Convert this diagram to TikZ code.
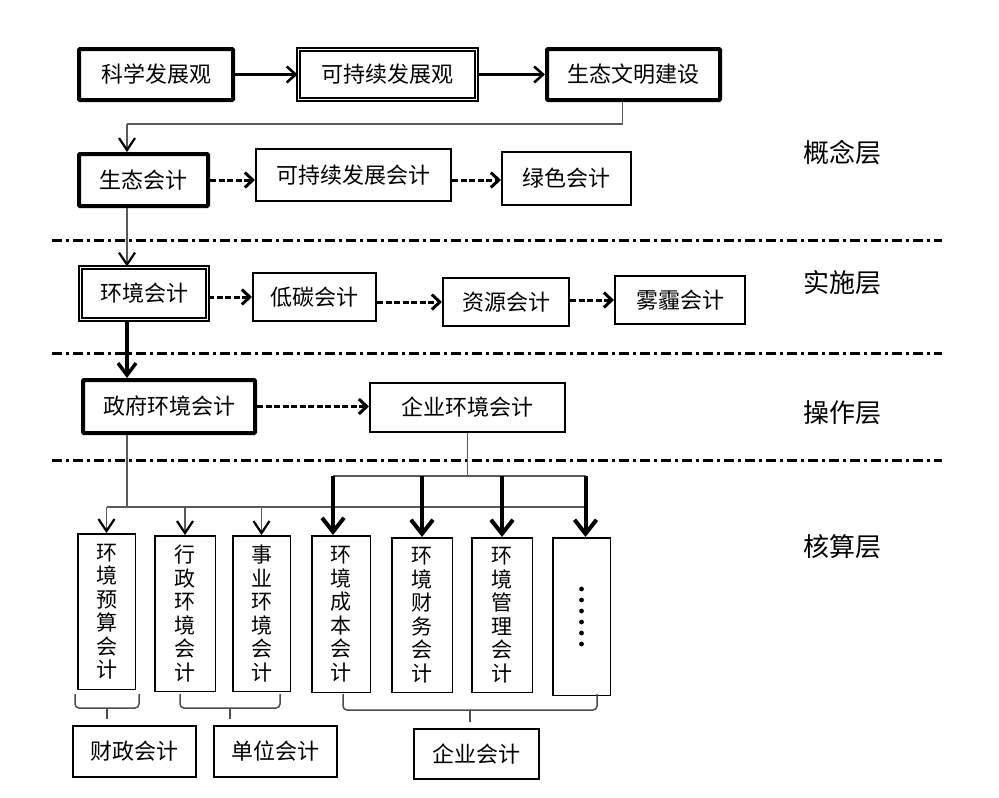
\documentclass[tikz,border=0pt]{standalone}
\usepackage{fontspec}
\newfontfamily\cjk{Noto Sans CJK SC}
\usetikzlibrary{arrows.meta}

\begin{document}
\begin{tikzpicture}[x=1pt,y=-1pt,
  font=\cjk\fontsize{22}{23}\selectfont,
  box/.style={draw,line width=2pt,inner sep=0pt},
  thickbox/.style={box,line width=4pt,rounded corners=1pt},
  dblbox/.style={box,double,double distance=1.5pt,line width=1.8pt},
  vbox/.style={draw,line width=1.5pt,inner sep=0pt,align=center,font=\cjk\fontsize{21}{23.5}\selectfont},
  labbox/.style={box,line width=2.4pt},
  layer/.style={font=\cjk\fontsize{26}{27}\selectfont},
  sepline/.style={line width=3pt,dash pattern=on 10pt off 4pt on 3pt off 4pt},
  link/.style={black!65,line width=1.2pt},
  arr/.style={line width=2.5pt,-{Straight Barb[length=9pt,width=16pt]}},
  dasharr/.style={line width=3pt,dash pattern=on 6pt off 2.5pt,-{Straight Barb[length=8pt,width=15pt,line width=3pt]}},
  thinarr/.style={link,-{Straight Barb[length=12pt,width=16pt,line width=2.2pt,color=black]}},
  thickarr/.style={line width=3.5pt,-{Straight Barb[length=12pt,width=18pt]}},
  bigarr/.style={line width=4pt,-{Straight Barb[length=14pt,width=22pt]}},
  bracket/.style={black!70,line width=1.5pt,rounded corners=4pt}]
\useasboundingbox (0,0) rectangle (999,798);

% Concept layer
\node[thickbox,minimum width=154pt,minimum height=51pt] (kxfzg) at (156,74.5) {科学发展观};
\node[dblbox,minimum width=178pt,minimum height=50pt] (kcxfzg) at (387.5,74.5) {可持续发展观};
\node[thickbox,minimum width=173pt,minimum height=51pt] (stwm) at (633.5,74.5) {生态文明建设};

\node[thickbox,minimum width=129pt,minimum height=52pt] (stkj) at (143.5,180) {生态会计};
\node[box,minimum width=195pt,minimum height=52pt] (kcxkj) at (353.5,175) {可持续发展会计};
\node[box,minimum width=129pt,minimum height=53pt] (lskj) at (566.5,178.5) {绿色会计};

% Implementation layer
\node[dblbox,minimum width=127pt,minimum height=52pt] (hjkj) at (144,293.5) {环境会计};
\node[box,minimum width=123pt,minimum height=48pt] (dtkj) at (314.5,297) {低碳会计};
\node[box,minimum width=126pt,minimum height=48pt] (zykj) at (506,302) {资源会计};
\node[box,minimum width=130pt,minimum height=48pt] (wmkj) at (680,300) {雾霾会计};

% Operation layer
\node[thickbox,minimum width=172pt,minimum height=53pt] (zfhj) at (169,406.5) {政府环境会计};
\node[box,minimum width=195pt,minimum height=49pt] (qyhj) at (467.5,407.5) {企业环境会计};

% Accounting layer
\node[vbox,minimum width=57.5pt,minimum height=155.5pt] (b1) at (106.5,611.5) {环\\境\\预\\算\\会\\计};
\node[vbox,minimum width=60.5pt,minimum height=155.5pt] (b2) at (185,613.5) {行\\政\\环\\境\\会\\计};
\node[vbox,minimum width=57.5pt,minimum height=155.5pt] (b3) at (261.5,613.5) {事\\业\\环\\境\\会\\计};
\node[vbox,minimum width=58.5pt,minimum height=156.5pt] (b4) at (341,614) {环\\境\\成\\本\\会\\计};
\node[vbox,minimum width=60.5pt,minimum height=154.5pt] (b5) at (422,615) {环\\境\\财\\务\\会\\计};
\node[vbox,minimum width=60.5pt,minimum height=154.5pt] (b6) at (502,615) {环\\境\\管\\理\\会\\计};
\node[vbox,minimum width=57.5pt,minimum height=157.5pt] (b7) at (581.5,616.5) {};
\foreach \i in {0,...,5}
  \fill ([yshift={(2.5-\i)*11pt}]b7.center) circle (2.4pt);

\node[labbox,minimum width=122.5pt,minimum height=50.5pt] (czkj) at (134.5,751.5) {财政会计};
\node[labbox,minimum width=122.5pt,minimum height=50.5pt] (dwkj) at (275.5,751.5) {单位会计};
\node[labbox,minimum width=124.5pt,minimum height=49.5pt] (qykj) at (476.5,754) {企业会计};

% Layer names
\node[layer] (l1) at (842,153) {概念层};
\node[layer] (l2) at (842,283) {实施层};
\node[layer] (l3) at (842,413) {操作层};
\node[layer] (l4) at (842,547) {核算层};

% Layer borders
\foreach \y in {240,353,460}
  \draw[sepline] (52,\y) -- (942,\y);

% Connectors
\coordinate (c1) at (127,124);
\coordinate (zbus) at (0,507);
\coordinate (qbus) at (0,476);

\draw[arr] (kxfzg) -- (kcxfzg);
\draw[arr] (kcxfzg) -- (stwm);
\draw[link] ([xshift=-11pt]stwm.south) |- (c1);
\draw[thinarr] (c1) -- (stkj.north -| c1);

\draw[dasharr] (stkj.east) -- (stkj.east -| kcxkj.west);
\draw[dasharr] (kcxkj.east |- stkj) -- (lskj.west |- stkj);

\draw[thinarr] (stkj.south -| c1) -- (hjkj.north -| c1);
\draw[dasharr] (hjkj.east |- dtkj) -- (dtkj.west);
\draw[dasharr] (dtkj.east |- zykj) -- (zykj.west);
\draw[dasharr] (zykj.east |- wmkj) -- (wmkj.west);

\draw[thickarr] (hjkj.south -| c1) -- (zfhj.north -| c1);
\draw[dasharr] (zfhj.east) -- (zfhj.east -| qyhj.west);

\draw[link] (zfhj.south -| c1) -- (c1 |- zbus);
\draw[link] (b1.north |- zbus) -- ([xshift=4pt]b7.north |- zbus);
\foreach \b in {b1,b2,b3}
  \draw[thinarr] (\b.north |- zbus) -- (\b.north);

\draw[link] (qyhj.south) -- (qyhj.south |- qbus);
\draw[link] ([xshift=-8pt]b4.north |- qbus) -- ([xshift=4pt]b7.north |- qbus);
\draw[bigarr] ([xshift=-8pt]b4.north |- qbus) -- ([xshift=-8pt]b4.north);
\foreach \b in {b5,b6}
  \draw[bigarr] (\b.north |- qbus) -- (\b.north);
\draw[bigarr] ([xshift=4pt]b7.north |- qbus) -- ([xshift=4pt]b7.north);

% Braces
\draw[bracket] (75,694) |- (139,708) -- (139,694);
\draw[bracket] (107,708) -- (107,719);
\draw[bracket] (180,694) |- (280,708) -- (280,694);
\draw[bracket] (230,708) -- (230,719);
\draw[bracket] (343,694) |- (597,710) -- (597,694);
\draw[bracket] (470,710) -- (470,722);
\end{tikzpicture}
\end{document}
